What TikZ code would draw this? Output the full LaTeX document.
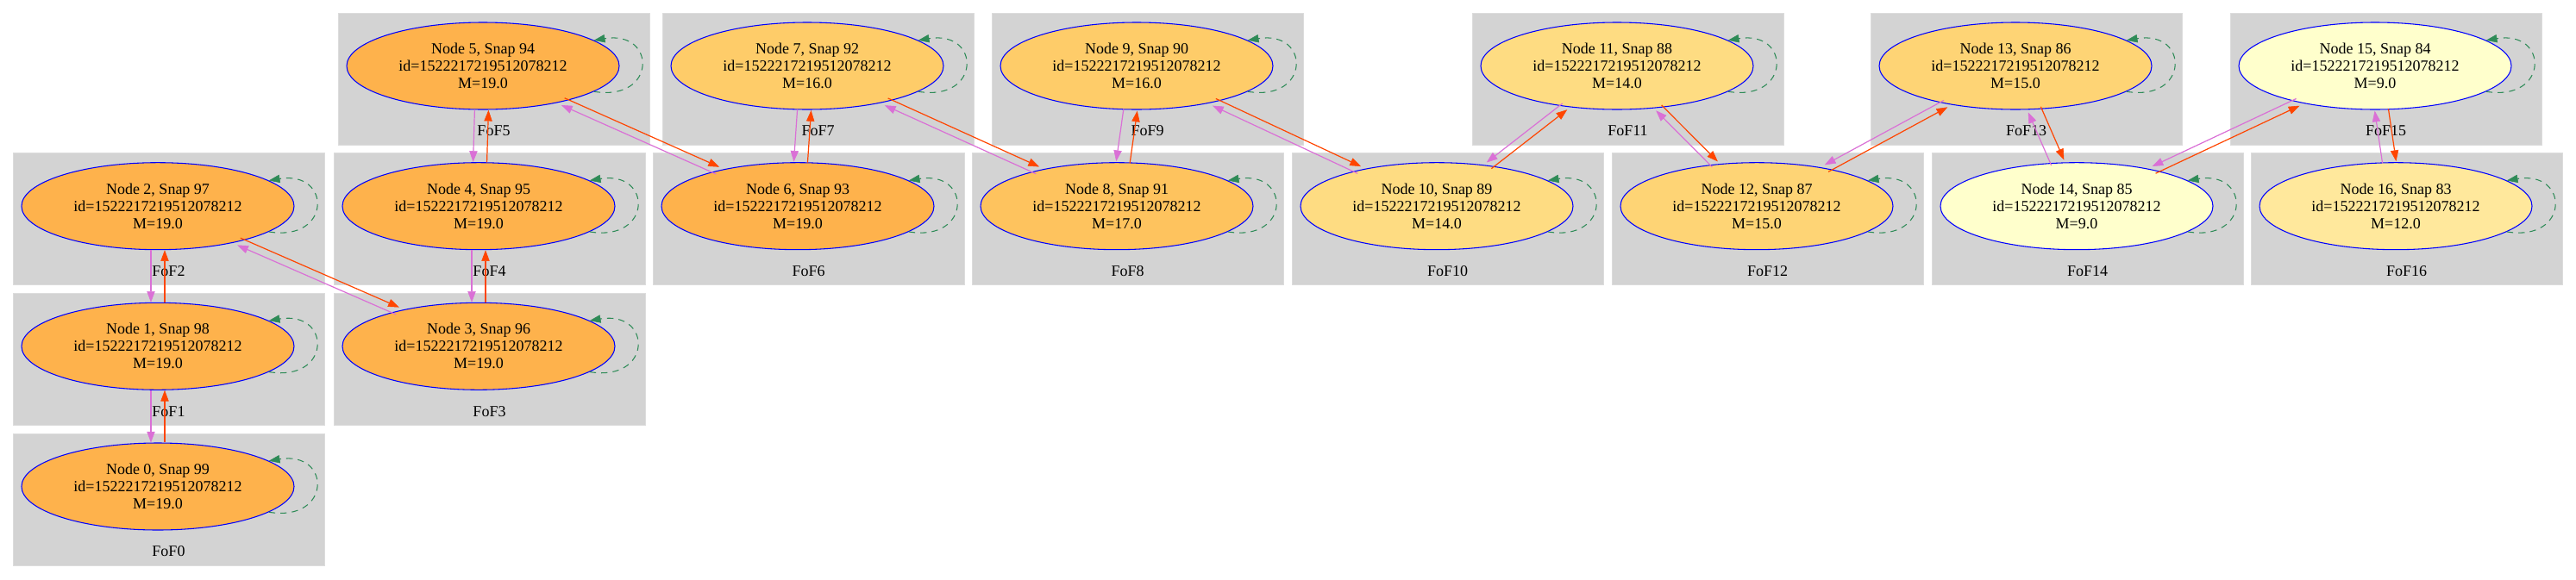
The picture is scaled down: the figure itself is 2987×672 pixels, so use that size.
\documentclass[tikz,border=0pt]{standalone}
\usepackage{fontspec}
\setmainfont{Liberation Serif}
\usetikzlibrary{arrows.meta,calc,positioning,shapes.geometric}
\definecolor{boxgray}{RGB}{211,211,211}
\definecolor{edgepink}{RGB}{218,112,214}
\definecolor{edgered}{RGB}{255,69,0}
\definecolor{loopgreen}{RGB}{46,139,87}
\definecolor{m19}{HTML}{FEB24C}
\definecolor{m17}{HTML}{FEC35E}
\definecolor{m16}{HTML}{FECC69}
\definecolor{m15}{HTML}{FED475}
\definecolor{m14}{HTML}{FEDC82}
\definecolor{m12}{HTML}{FFE89C}
\definecolor{m9}{HTML}{FFFFCC}

\begin{document}
\begin{tikzpicture}[x=0.75pt,y=-0.75pt,
    font=\fontsize{13.5}{15}\selectfont,
    fofbox/.style={rectangle,fill=boxgray,draw=boxgray!80!white,minimum width=270.75pt,minimum height=114.75pt,inner sep=0pt},
    foflabel/.style={inner sep=1pt},
    fofnode/.style={ellipse,draw=blue,line width=0.8pt,minimum width=237pt,minimum height=75.75pt,inner sep=0pt,align=center},
    tip/.style={-{Triangle[length=9.5pt,width=7pt,line width=0.4pt]}},
    pinkedge/.style={tip,draw=edgepink,line width=0.9pt},
    rededge/.style={tip,draw=edgered,line width=0.9pt},
    selfloop/.style={tip,draw=loopgreen,line width=0.8pt,dash pattern=on 5.5pt off 4.5pt}]
  \useasboundingbox (0,0) rectangle (2987,672);
  % one FoF group per halo: box, label, node and its self loop
  \foreach \k/\bx/\by/\col/\snap/\mass in {
      0/15/503/m19/99/19.0, 1/15/340.3/m19/98/19.0, 2/15/177.7/m19/97/19.0,
      3/387/340.3/m19/96/19.0, 4/387/177.7/m19/95/19.0, 5/392/15/m19/94/19.0,
      6/757/177.7/m19/93/19.0, 7/768/15/m16/92/16.0, 8/1127/177.7/m17/91/17.0,
      9/1150/15/m16/90/16.0, 10/1498/177.7/m14/89/14.0, 11/1707/15/m14/88/14.0,
      12/1869/177.7/m15/87/15.0, 13/2169/15/m15/86/15.0, 14/2240/177.7/m9/85/9.0,
      15/2586/15/m9/84/9.0, 16/2610/177.7/m12/83/12.0}{
    \node[fofbox] (fof\k) at ({\bx+180.5},{\by+76.5}) {};
    \node[foflabel] (lab\k) at ({\bx+180.5},{\by+137}) {FoF\k};
    \node[fofnode,fill=\col] (n\k) at ({\bx+168},{\by+61.5})
      {Node \k, Snap \snap\\id=1522217219512078212\\M=\mass};
    \draw[selfloop] (n\k.-13) .. controls +(73,12) and +(73,-12) .. (n\k.13);
  }
  % progenitor links: red n -> n+1, pink n+1 -> n
  \foreach \a/\b/\ang/\d in {
      0/1/90/6pt, 1/2/90/6pt, 2/3/-90/3.4pt, 3/4/90/6pt, 4/5/90/6pt,
      5/6/-90/3.4pt, 6/7/90/6pt, 7/8/-90/3.4pt, 8/9/90/6pt, 9/10/-90/3.4pt,
      10/11/90/3.4pt, 11/12/-90/3.4pt, 12/13/90/3.4pt, 13/14/-90/6pt,
      14/15/90/3.4pt, 15/16/-90/6pt}{
    \coordinate (side) at ($(n\a)!\d!\ang:(n\b)$);
    \draw[rededge,transform canvas={shift={($(n\a)-(side)$)}}] (n\a) -- (n\b);
    \draw[pinkedge,transform canvas={shift={($(side)-(n\a)$)}}] (n\b) -- (n\a);
  }
\end{tikzpicture}
\end{document}
